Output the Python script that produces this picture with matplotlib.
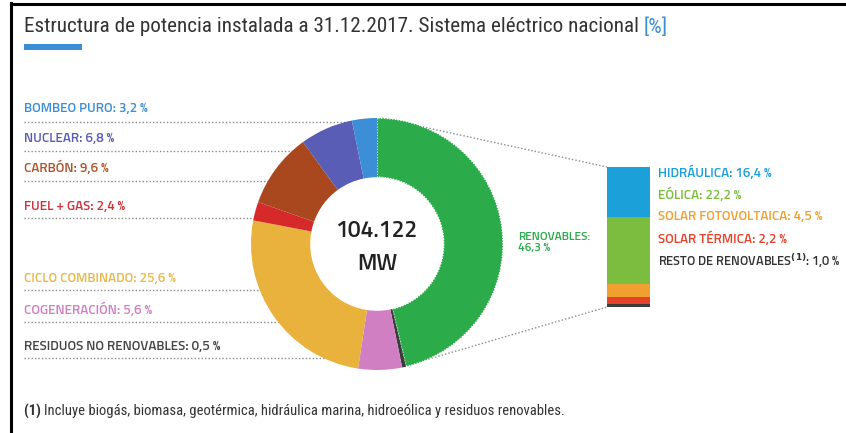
import matplotlib.pyplot as plt
from matplotlib import font_manager

# --- data -------------------------------------------------------------
donut_labels = ['RENOVABLES', 'RESIDUOS NO RENOVABLES', 'COGENERACIÓN', 'CICLO COMBINADO',
                'FUEL + GAS', 'CARBÓN', 'NUCLEAR', 'BOMBEO PURO']
donut_values = [46.3, 0.5, 5.6, 25.6, 2.4, 9.6, 6.8, 3.2]
donut_colors = ['#2bab4a', '#3c3c3c', '#d17fc3', '#e9b23c', '#d62a2a', '#a9471f', '#5a5db5', '#3c8fd6']

ren_labels = ['HIDRÁULICA', 'EÓLICA', 'SOLAR FOTOVOLTAICA', 'SOLAR TÉRMICA', 'RESTO DE RENOVABLES']
ren_values = [16.4, 22.2, 4.5, 2.2, 1.0]
ren_colors = ['#1ba0d9', '#7cbd40', '#f0a030', '#e6432b', '#3c3c3c']

total_mw = '104.122'

W, H = 846, 433
names = {f.name for f in font_manager.fontManager.ttflist}

def pick(cands):
    for c in cands:
        if c in names:
            return [c, 'DejaVu Sans']
    return ['DejaVu Sans']

LAB = pick(['Saira Semi Condensed', 'Titillium Web', 'Barlow Semi Condensed', 'Roboto Condensed',
            'PT Sans Narrow', 'Fira Sans Condensed'])
TIT = pick(['Roboto Condensed', 'Barlow Condensed', 'PT Sans Narrow', 'Fira Sans Condensed',
            'Saira Semi Condensed'])
LW = 'semibold'

def fmt(v):
    return f'{v:.1f}'.replace('.', ',') + ' %'

fig = plt.figure(figsize=(W / 100, H / 100), dpi=100)

# overlay axes in pixel coordinates for frame, lines and text
ov = fig.add_axes([0, 0, 1, 1])
ov.set_xlim(0, W)
ov.set_ylim(H, 0)
ov.axis('off')

# --- donut ------------------------------------------------------------
cx, cy, r = 377, 244, 126
pax = fig.add_axes([(cx - r) / W, (H - cy - r) / H, 2 * r / W, 2 * r / H])
wedges, _ = pax.pie(donut_values, colors=donut_colors, startangle=90, counterclock=False,
                    radius=1, wedgeprops=dict(width=0.47, linewidth=0))
wedges[0].set_edgecolor('white')
wedges[0].set_linewidth(1.0)
wedges[0].set_linestyle((0, (1, 1)))
pax.set_xlim(-1, 1)
pax.set_ylim(-1, 1)
pax.text(0, 0.1, total_mw, ha='center', va='center', fontsize=16.5, color='#222222',
         weight=LW, family=LAB)
pax.text(0, -0.16, 'MW', ha='center', va='center', fontsize=16.5, color='#222222',
         weight=LW, family=LAB)

# --- stacked bar for renewables --------------------------------------
bx0, bx1, by0, by1 = 607, 650, 167, 307
bax = fig.add_axes([bx0 / W, (H - by1) / H, (bx1 - bx0) / W, (by1 - by0) / H])
bottom = 0
for v, c in zip(ren_values, ren_colors):
    bax.bar(0, v, bottom=bottom, width=1, color=c, linewidth=0)
    bottom += v
bax.set_xlim(-0.5, 0.5)
bax.set_ylim(sum(ren_values), 0)
bax.axis('off')

# --- frame, title -----------------------------------------------------
ov.plot([11, 11], [3, H], color='black', lw=2.2)
ov.plot([11, W], [4, 4], color='black', lw=2.2)
t = ov.text(24, 27, 'Estructura de potencia instalada a 31.12.2017. Sistema eléctrico nacional ',
            fontsize=15.2, color='#333333', va='center', family=TIT)
fig.canvas.draw()
tw = t.get_window_extent().width
ov.text(24 + tw, 27, '[%]', fontsize=15.2, color='#3c8fd6', va='center', family=TIT)
ov.add_patch(plt.Rectangle((24, 44), 58, 6, color='#3c8fd6', lw=0))

dot = dict(color='#8a8a8a', lw=1, linestyle=(0, (1, 1.5)))

# --- left labels ------------------------------------------------------
left_items = [  # (index in donut, label y, line y, line end x)
    (7, 108, 122, 352),
    (6, 138, 151, 322),
    (5, 168, 181, 297),
    (4, 206, 218, 273),
    (3, 278, 290, 275),
    (2, 310, 322, 368),
    (1, 346, 358, 402),
]
label_colors = {7: '#3c8fd6', 6: '#5a5db5', 5: '#b0532b', 4: '#d0303a', 3: '#e9b84a',
                2: '#d17fc3', 1: '#444444'}
for i, ty, ly, lx in left_items:
    ov.text(24, ty, f'{donut_labels[i]}: {fmt(donut_values[i])}', fontsize=9.6,
            color=label_colors[i], va='center', weight=LW, family=LAB)
    ov.plot([24, lx], [ly, ly], **dot)

# --- renewables labels ------------------------------------------------
ov.text(518, 238, 'RENOVABLES:', fontsize=8.6, color='#2bab4a', va='center',
        weight=LW, family=LAB)
ov.text(518, 249, fmt(donut_values[0]), fontsize=8.6, color='#2bab4a', va='center',
        weight=LW, family=LAB)
ov.plot([382, bx0], [118, by0], **dot)
ov.plot([405, bx0], [366, by1], **dot)

ren_text_colors = ['#1ba0d9', '#7cbd40', '#f0a030', '#e6432b', '#333333']
for k, (lab, v, c) in enumerate(zip(ren_labels, ren_values, ren_text_colors)):
    y = 173 + k * 22
    if k == 4:
        ov.text(658, y, r'RESTO DE RENOVABLES$^{\mathbf{(1)}}$: ' + fmt(v), fontsize=9.2,
                color=c, va='center', weight=LW, family=LAB)
    else:
        ov.text(658, y, f'{lab}: {fmt(v)}', fontsize=9.6, color=c, va='center',
                weight=LW, family=LAB)

# --- footnote ---------------------------------------------------------
fn = ov.text(24, 411, '(1) ', fontsize=10.5, color='#333333', va='center', weight='bold', family=TIT)
fig.canvas.draw()
fw = fn.get_window_extent().width
ov.text(24 + fw, 411, 'Incluye biogás, biomasa, geotérmica, hidráulica marina, hidroeólica y residuos renovables.',
        fontsize=10.5, color='#333333', va='center', family=TIT)

fig.savefig('out.png', dpi=100, facecolor='white')
